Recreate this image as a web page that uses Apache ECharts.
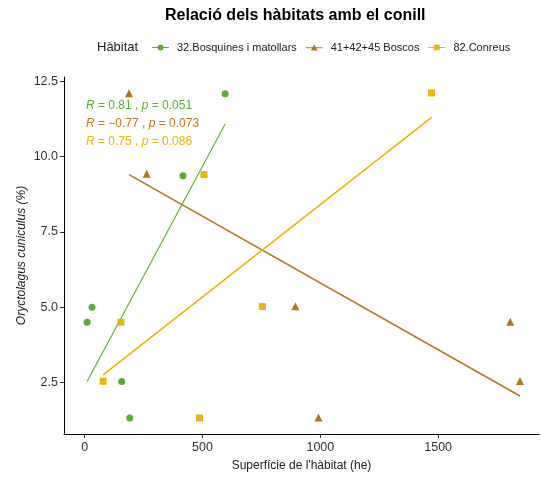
<!DOCTYPE html>
<html>
<head>
<meta charset="utf-8">
<script src="https://cdn.jsdelivr.net/npm/echarts@6/dist/echarts.min.js"></script>
<style>
html,body{margin:0;padding:0;background:#fff;}
#c{width:541px;height:477px;}
</style>
</head>
<body>
<div id="c"></div>
<script>
// ---- data ----
var seriesNames = ['32.Bosquines i matollars', '41+42+45 Boscos', '82.Conreus'];
var greenX = [10, 31, 157, 191, 417, 596];
var greenY = [4.5, 5.0, 2.53, 1.32, 9.36, 12.08];
var brownX = [188, 263, 894, 992, 1806, 1847];
var brownY = [12.1, 9.43, 5.03, 1.34, 4.52, 2.55];
var yellowX = [78, 154, 487, 506, 754, 1472];
var yellowY = [2.54, 4.5, 1.32, 9.4, 5.02, 12.11];
// fitted regression line end points
var greenFitX = [10, 596];
var greenFitY = [2.53, 11.08];
var brownFitX = [188, 1847];
var brownFitY = [9.4, 2.05];
var yellowFitX = [78, 1472];
var yellowFitY = [2.75, 11.3];
var xTicks = [0, 500, 1000, 1500];
var yTicks = [2.5, 5.0, 7.5, 10.0, 12.5];
var statLabels = [
  ['0.81', '0.051'],
  ['\u22120.77', '0.073'],
  ['0.75', '0.086']
];

var colors = ['#5DAE2C', '#B4791C', '#E7B800'];
var FONT = '"Liberation Sans", Arial, sans-serif';

function pairs(xs, ys){ return xs.map(function(x,i){ return [x, ys[i]]; }); }

var icons = [
  'path://M0,2.5 L17,2.5 L17,3.5 L0,3.5 Z M5.6,3 A2.9,2.9 0 1,1 11.4,3 A2.9,2.9 0 1,1 5.6,3 Z',
  'path://M8.5,-0.2 L11.9,5.9 L5.1,5.9 Z M0,2.5 L17,2.5 L17,3.5 L0,3.5 Z',
  'path://M5.7,0.2 L11.3,0.2 L11.3,5.8 L5.7,5.8 Z M0,2.5 L17,2.5 L17,3.5 L0,3.5 Z'
];
var symbols = ['circle', 'triangle', 'rect'];
var symSizes = [7, 8, 7];

var xs = [greenX, brownX, yellowX], ys = [greenY, brownY, yellowY];
var fx = [greenFitX, brownFitX, yellowFitX], fy = [greenFitY, brownFitY, yellowFitY];
var series = [];
for (var i = 0; i < 3; i++) {
  series.push({
    name: seriesNames[i], type: 'scatter', symbol: symbols[i], symbolSize: symSizes[i],
    itemStyle: {color: colors[i], opacity: 1}, data: pairs(xs[i], ys[i]), z: 3,
    emphasis: {disabled: true}
  });
}
for (var j = 0; j < 3; j++) {
  series.push({
    name: seriesNames[j], type: 'line', symbol: 'none', silent: true,
    lineStyle: {color: colors[j], width: j === 0 ? 1.1 : 1.6},
    data: pairs(fx[j], fy[j]), z: 2, animation: false
  });
}

var graphics = [];
for (var k = 0; k < 3; k++) {
  graphics.push({
    type: 'text', left: 86, top: 100 + k * 18,
    style: {
      text: '{i|R} = ' + statLabels[k][0] + ' , {i|p} = ' + statLabels[k][1],
      fill: colors[k], font: '12px ' + FONT,
      rich: {i: {fontStyle: 'italic', fontSize: 12, fontFamily: FONT, fill: colors[k]}}
    }
  });
}
graphics.push({
  type: 'text', left: 97, top: 41,
  style: {text: 'H\u00e0bitat', fill: '#222', font: '13px ' + FONT}
});

var chart = echarts.init(document.getElementById('c'), null, {renderer: 'canvas'});
chart.setOption({
  animation: false,
  backgroundColor: '#fff',
  title: {
    text: 'Relaci\u00f3 dels h\u00e0bitats amb el conill',
    left: 160, top: 3,
    textStyle: {fontFamily: FONT, fontSize: 16, fontWeight: 'bold', color: '#000'}
  },
  legend: {
    left: 147, top: 37, itemWidth: 17, itemHeight: 6, itemGap: 9,
    selectedMode: false,
    textStyle: {fontFamily: FONT, fontSize: 11, color: '#222', padding: [0, 0, 0, 3]},
    data: seriesNames.map(function(n, i){ return {name: n, icon: icons[i], itemStyle: {color: colors[i]}}; })
  },
  grid: {left: 64, right: 2, top: 77, bottom: 42, containLabel: false},
  xAxis: {
    type: 'value', min: -88, max: 1928,
    name: 'Superf\u00edcie de l\'h\u00e0bitat (he)', nameLocation: 'middle', nameGap: 26,
    nameMoveOverlap: false,
    nameTextStyle: {fontFamily: FONT, fontSize: 12, color: '#222'},
    axisLine: {show: true, onZero: false, lineStyle: {color: '#000', width: 1}},
    axisTick: {show: true, length: 4, lineStyle: {color: '#333'}, customValues: xTicks},
    axisLabel: {fontFamily: FONT, fontSize: 12.5, color: '#333', margin: 7, customValues: xTicks,
      formatter: function(v){ return String(v); }},
    splitLine: {show: false}
  },
  yAxis: {
    type: 'value', min: 0.79, max: 12.64,
    name: 'Oryctolagus cuniculus (%)', nameLocation: 'middle', nameGap: 36, nameRotate: 90,
    nameMoveOverlap: false,
    nameTextStyle: {fontFamily: FONT, fontSize: 12, color: '#222', fontStyle: 'italic'},
    axisLine: {show: true, onZero: false, lineStyle: {color: '#000', width: 1}},
    axisTick: {show: true, length: 4, lineStyle: {color: '#333'}, customValues: yTicks},
    axisLabel: {fontFamily: FONT, fontSize: 12.5, color: '#333', margin: 6, customValues: yTicks,
      formatter: function(v){ return v.toFixed(1); }},
    splitLine: {show: false}
  },
  graphic: graphics,
  series: series
});
</script>
</body>
</html>
